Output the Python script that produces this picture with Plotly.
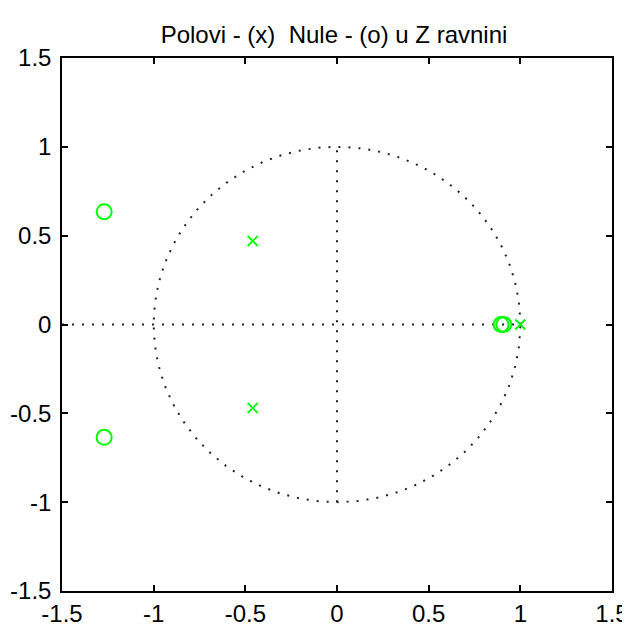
import numpy as np
import plotly.graph_objects as go

# Zeros (o) and poles (x)
zeros_re = [-1.27, -1.27, 0.895, 0.91]
zeros_im = [0.635, -0.635, 0.0, 0.0]
poles_re = [-0.46, -0.46, 1.0]
poles_im = [0.47, -0.47, 0.0]

title_text = "Polovi - (x)  Nule - (o) u Z ravnini"
tick_vals = [-1.5, -1, -0.5, 0, 0.5, 1, 1.5]
tick_text = ["-1.5", "-1", "-0.5", "0", "0.5", "1", "1.5"]

green = "#00FF00"
dotcol = "#222222"
dotdash = "2px,8px"

fig = go.Figure()

theta = np.linspace(0, 2 * np.pi, 400)
fig.add_trace(go.Scatter(x=np.cos(theta), y=np.sin(theta), mode="lines",
                         line=dict(color=dotcol, width=2, dash=dotdash),
                         hoverinfo="skip", showlegend=False))
fig.add_trace(go.Scatter(x=[-1.5, 1.0], y=[0, 0], mode="lines",
                         line=dict(color=dotcol, width=2, dash=dotdash),
                         hoverinfo="skip", showlegend=False))
fig.add_trace(go.Scatter(x=[0, 0], y=[-1, 1], mode="lines",
                         line=dict(color=dotcol, width=2, dash=dotdash),
                         hoverinfo="skip", showlegend=False))

fig.add_trace(go.Scatter(x=zeros_re, y=zeros_im, mode="markers",
                         marker=dict(symbol="circle-open", size=15, color=green,
                                     line=dict(width=2, color=green)),
                         showlegend=False))
fig.add_trace(go.Scatter(x=poles_re, y=poles_im, mode="markers",
                         marker=dict(symbol="x-thin-open", size=10, color=green,
                                     line=dict(width=1.8, color=green)),
                         showlegend=False))

font_family = "Liberation Sans, Arial"
axis_common = dict(range=[-1.5, 1.5], tickvals=tick_vals, ticktext=tick_text,
                   showgrid=False, zeroline=False, showline=True, linecolor="black",
                   linewidth=1.5, mirror="ticks", ticks="inside", ticklen=6,
                   tickcolor="black", tickwidth=1.5, automargin=False,
                   ticklabeloverflow="allow",
                   tickfont=dict(family=font_family, size=24, color="black"))

W, H = 622, 618
fig.update_layout(
    width=W, height=H,
    margin=dict(l=54, r=18, t=50, b=35),
    paper_bgcolor="white", plot_bgcolor="white",
    title=dict(text=title_text, x=326 / W, xanchor="center", y=1 - 27 / H, yanchor="middle",
               font=dict(family=font_family, size=24, color="black")),
    xaxis=dict(**axis_common),
    yaxis=dict(**axis_common),
)
fig.update_yaxes(ticklabelstandoff=4)
fig.update_xaxes(ticklabelstandoff=0)

fig.write_html("out.html")
